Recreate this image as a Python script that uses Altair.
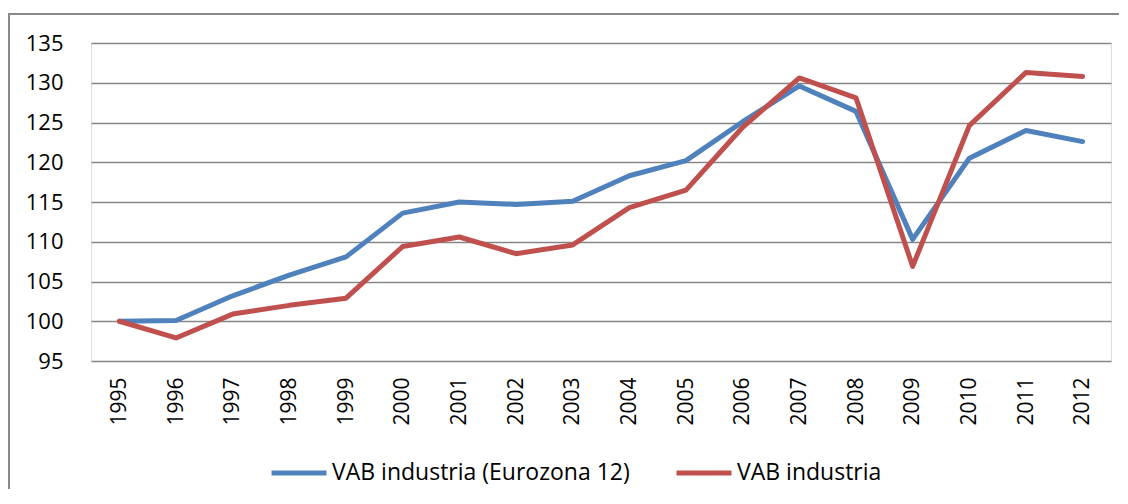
import altair as alt
import pandas as pd

years = [str(y) for y in range(1995, 2013)]
series_names = ["VAB industria (Eurozona 12)", "VAB industria"]
eurozona = [100.0, 100.1, 103.2, 105.8, 108.1, 113.6, 115.0, 114.7, 115.1, 118.3,
            120.2, 125.1, 129.6, 126.4, 110.3, 120.5, 124.0, 122.6]
espana = [100.0, 97.9, 100.9, 102.0, 102.9, 109.4, 110.6, 108.5, 109.6, 114.3,
          116.5, 124.4, 130.6, 128.1, 106.9, 124.6, 131.3, 130.8]
colors = ["#4F81BD", "#C0504D"]
y_ticks = list(range(95, 136, 5))

rows = []
for name, vals in zip(series_names, [eurozona, espana]):
    for i, (yr, v) in enumerate(zip(years, vals)):
        rows.append({"year": yr, "value": v, "series": name, "order": i})
df = pd.DataFrame(rows)

FONT = "Open Sans"

lines = alt.Chart(df).mark_line(strokeWidth=5, strokeCap="round", strokeJoin="round").encode(
    x=alt.X("year:O", sort=years, title=None,
            scale=alt.Scale(type="point", padding=0.5),
            axis=alt.Axis(labelAngle=-90, labelPadding=16, ticks=False, domain=False,
                          labelFontSize=21, labelFont=FONT, labelColor="#000000",
                          labelBaseline="middle", labelAlign="right")),
    y=alt.Y("value:Q", title=None,
            scale=alt.Scale(domain=[95, 135], nice=False, zero=False),
            axis=alt.Axis(values=y_ticks, ticks=False, domain=False, labelPadding=28,
                          labelFontSize=22, labelFont=FONT, labelColor="#000000",
                          gridColor="#868686", gridWidth=1.4, gridOpacity=1)),
    color=alt.Color("series:N", sort=series_names,
                    scale=alt.Scale(domain=series_names, range=colors),
                    legend=alt.Legend(title=None, orient="none", legendX=178, legendY=400,
                                      direction="horizontal", symbolType="stroke",
                                      symbolSize=3025, symbolStrokeWidth=5,
                                      labelFontSize=23, labelFont=FONT, labelColor="#000000",
                                      labelLimit=0, labelOffset=3, columnPadding=36,
                                      padding=0)),
    detail="series:N",
    order="order:Q",
)

frame_left = alt.Chart(df).mark_rule(color="#8a8a8a", strokeWidth=2).encode(
    x=alt.value(-82), y=alt.value(-29), y2=alt.value(470))
frame_top = alt.Chart(df).mark_rect(fill="#8a8a8a", strokeWidth=0).encode(
    x=alt.value(-83), x2=alt.value(1028), y=alt.value(-30), y2=alt.value(-28))

chart = alt.layer(frame_left, frame_top, lines).properties(
    width=1020, height=318,
    autosize=alt.AutoSizeParams(type="none"),
    padding={"left": 83, "top": 35, "right": 9, "bottom": 128},
).configure_view(stroke=None).configure(background="white")

chart.save("out.html", embed_options={"renderer": "svg", "actions": False})
